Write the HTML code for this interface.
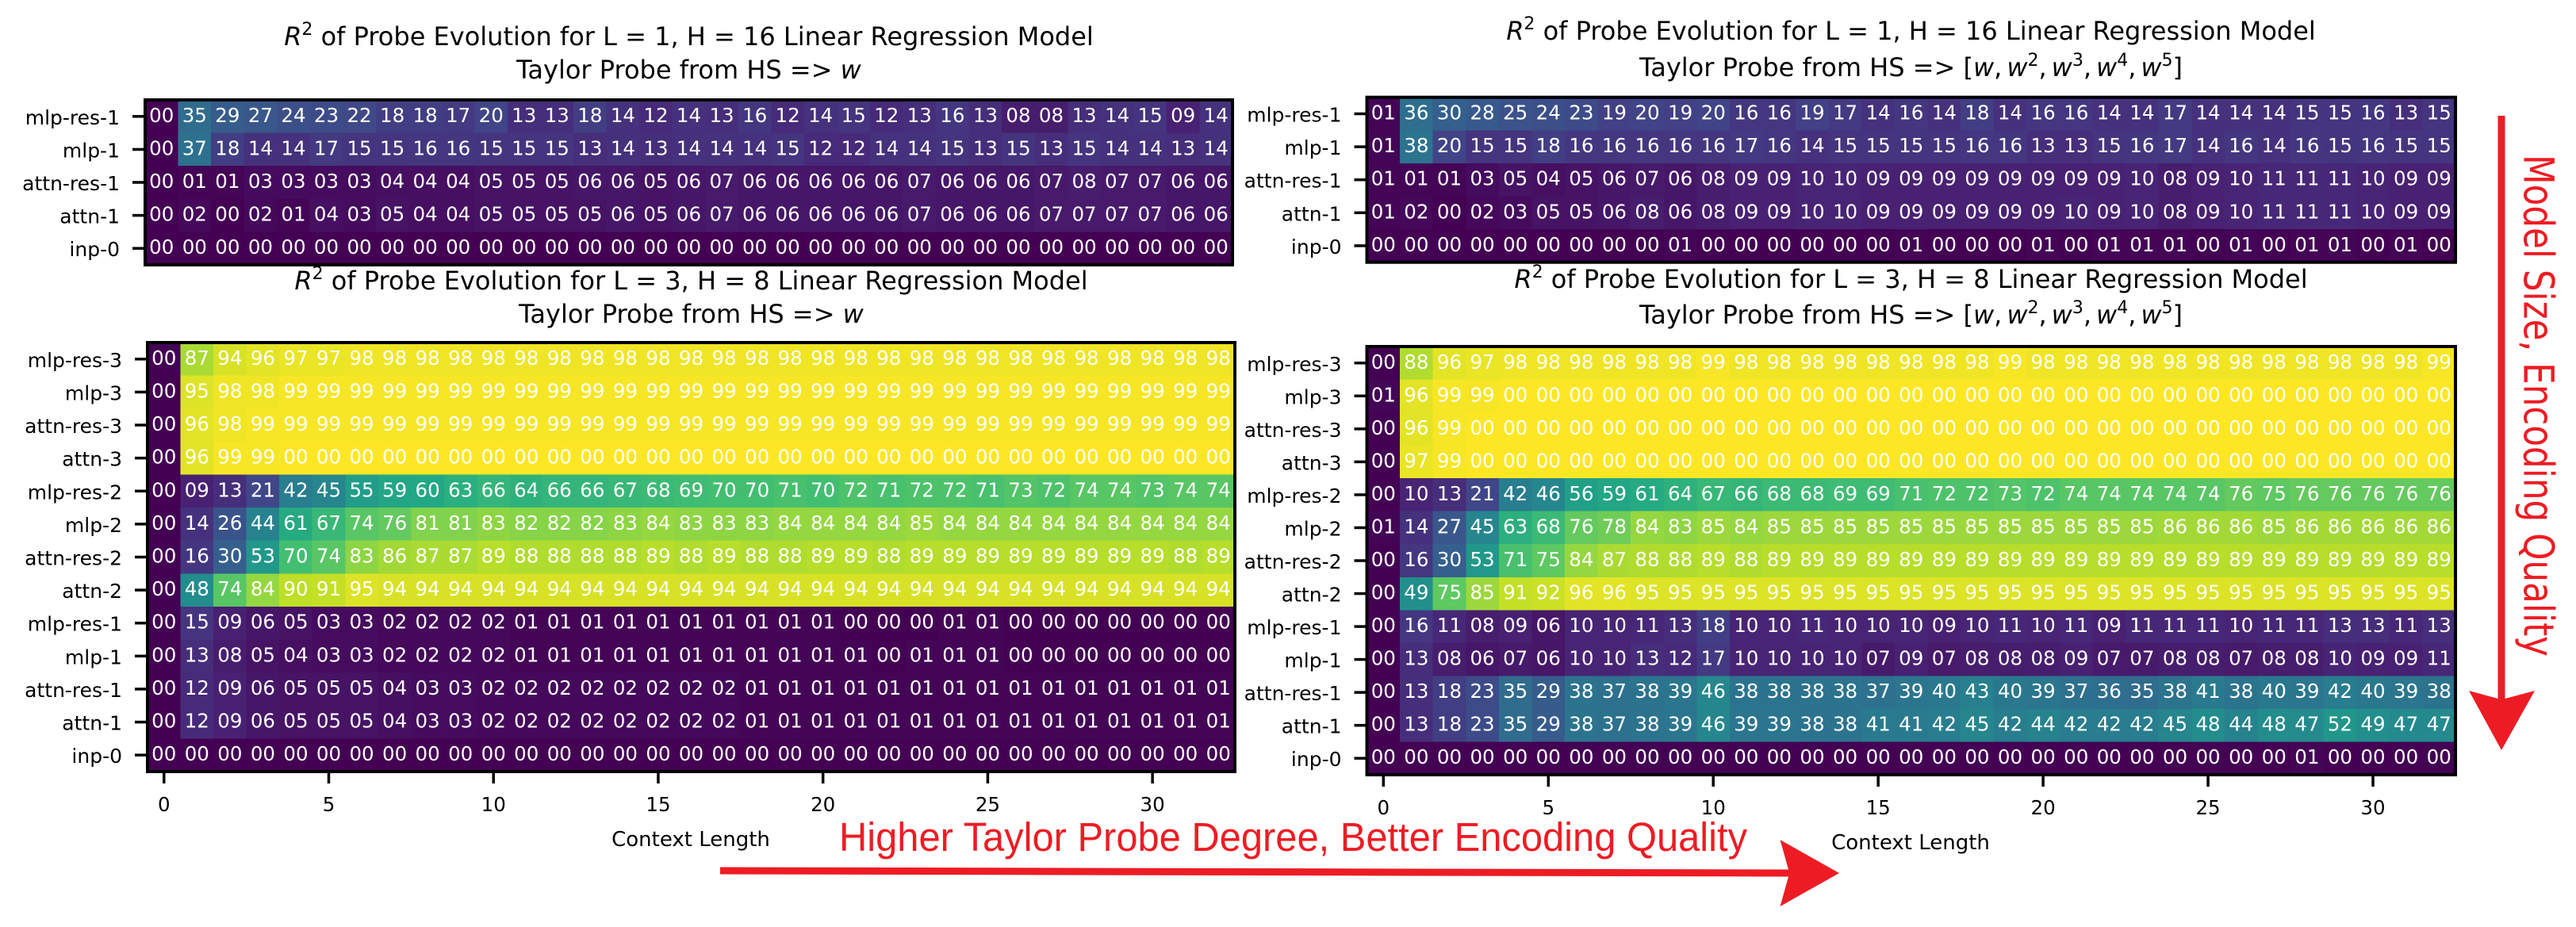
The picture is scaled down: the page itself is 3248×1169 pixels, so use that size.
<!DOCTYPE html>
<html lang="en">
<head>
<meta charset="utf-8">
<title>R2 of Probe Evolution heatmaps</title>
<style>
html,body{margin:0;padding:0;background:#fff;}
svg{display:block;}
text{font-family:"DejaVu Sans","Liberation Sans",sans-serif;}
.title{font-size:32px;fill:#000;text-anchor:middle;}
.sup{font-size:22px;}
.it{font-style:italic;}
.cell-text{font-size:24.5px;fill:#fff;text-anchor:middle;}
.ytick{font-size:25px;fill:#000;text-anchor:end;}
.xtick{font-size:24.5px;fill:#000;text-anchor:middle;}
.xlabel{font-size:26px;fill:#000;text-anchor:middle;}
</style>
</head>
<body>
<svg id="chart" xmlns="http://www.w3.org/2000/svg" width="3248" height="1169" viewBox="0 0 3248 1169">
  <rect x="0" y="0" width="3248" height="1169" fill="#fff"/>

  <text class="title" x="868.5" y="57"><tspan class="it">R</tspan><tspan class="sup" dy="-13">2</tspan><tspan dy="13"> of Probe Evolution for L = 1, H = 16 Linear Regression Model</tspan></text>
  <text class="title" x="868.5" y="99">Taylor Probe from HS =&gt; <tspan class="it">w</tspan></text>

  <text class="title" x="2409.5" y="50"><tspan class="it">R</tspan><tspan class="sup" dy="-13">2</tspan><tspan dy="13"> of Probe Evolution for L = 1, H = 16 Linear Regression Model</tspan></text>
  <text class="title" x="2409.5" y="96">Taylor Probe from HS =&gt; [<tspan class="it">w</tspan>,<tspan class="it" dx="6">w</tspan><tspan class="sup" dy="-13">2</tspan><tspan dy="13">,</tspan><tspan class="it" dx="6">w</tspan><tspan class="sup" dy="-13">3</tspan><tspan dy="13">,</tspan><tspan class="it" dx="6">w</tspan><tspan class="sup" dy="-13">4</tspan><tspan dy="13">,</tspan><tspan class="it" dx="6">w</tspan><tspan class="sup" dy="-13">5</tspan><tspan dy="13">]</tspan></text>

  <text class="title" x="871.5" y="365"><tspan class="it">R</tspan><tspan class="sup" dy="-13">2</tspan><tspan dy="13"> of Probe Evolution for L = 3, H = 8 Linear Regression Model</tspan></text>
  <text class="title" x="871.5" y="407">Taylor Probe from HS =&gt; <tspan class="it">w</tspan></text>

  <text class="title" x="2409.5" y="363"><tspan class="it">R</tspan><tspan class="sup" dy="-13">2</tspan><tspan dy="13"> of Probe Evolution for L = 3, H = 8 Linear Regression Model</tspan></text>
  <text class="title" x="2409.5" y="408">Taylor Probe from HS =&gt; [<tspan class="it">w</tspan>,<tspan class="it" dx="6">w</tspan><tspan class="sup" dy="-13">2</tspan><tspan dy="13">,</tspan><tspan class="it" dx="6">w</tspan><tspan class="sup" dy="-13">3</tspan><tspan dy="13">,</tspan><tspan class="it" dx="6">w</tspan><tspan class="sup" dy="-13">4</tspan><tspan dy="13">,</tspan><tspan class="it" dx="6">w</tspan><tspan class="sup" dy="-13">5</tspan><tspan dy="13">]</tspan></text>

  <g id="panels"></g>

  <text class="xlabel" x="871" y="1067">Context Length</text>
  <text class="xlabel" x="2409" y="1071">Context Length</text>

  <text x="1058" y="1073" textLength="1145" lengthAdjust="spacingAndGlyphs" style="font-family:'Liberation Sans',sans-serif;font-size:51px;fill:#ed1c24;">Higher Taylor Probe Degree, Better Encoding Quality</text>
  <polygon fill="#ed1c24" points="908,1093.5 2255,1096.5 2244.5,1059 2319,1101 2244.5,1143 2255,1105.5 908,1102.5"/>

  <text transform="translate(3182.5,195) rotate(90) scale(1,1.2)" textLength="633" lengthAdjust="spacingAndGlyphs" style="font-size:44px;fill:#ed1c24;">Model Size, Encoding Quality</text>
  <polygon fill="#ed1c24" points="3149.5,146 3158.5,146 3158.5,881 3196,871 3154,946 3113,871 3149.5,881"/>
</svg>
<script>
const xTickLabels = [0, 5, 10, 15, 20, 25, 30];
const labelsSmall = ['mlp-res-1', 'mlp-1', 'attn-res-1', 'attn-1', 'inp-0'];
const labelsLarge = ['mlp-res-3', 'mlp-3', 'attn-res-3', 'attn-3', 'mlp-res-2', 'mlp-2', 'attn-res-2', 'attn-2', 'mlp-res-1', 'mlp-1', 'attn-res-1', 'attn-1', 'inp-0'];

const topLeftMlpRes1 = [0,35,29,27,24,23,22,18,18,17,20,13,13,18,14,12,14,13,16,12,14,15,12,13,16,13,8,8,13,14,15,9,14];
const topLeftMlp1 = [0,37,18,14,14,17,15,15,16,16,15,15,15,13,14,13,14,14,14,15,12,12,14,14,15,13,15,13,15,14,14,13,14];
const topLeftAttnRes1 = [0,1,1,3,3,3,3,4,4,4,5,5,5,6,6,5,6,7,6,6,6,6,6,7,6,6,6,7,8,7,7,6,6];
const topLeftAttn1 = [0,2,0,2,1,4,3,5,4,4,5,5,5,5,6,5,6,7,6,6,6,6,6,7,6,6,6,7,7,7,7,6,6];
const topLeftInp0 = [0,0,0,0,0,0,0,0,0,0,0,0,0,0,0,0,0,0,0,0,0,0,0,0,0,0,0,0,0,0,0,0,0];

const topRightMlpRes1 = [1,36,30,28,25,24,23,19,20,19,20,16,16,19,17,14,16,14,18,14,16,16,14,14,17,14,14,14,15,15,16,13,15];
const topRightMlp1 = [1,38,20,15,15,18,16,16,16,16,16,17,16,14,15,15,15,15,16,16,13,13,15,16,17,14,16,14,16,15,16,15,15];
const topRightAttnRes1 = [1,1,1,3,5,4,5,6,7,6,8,9,9,10,10,9,9,9,9,9,9,9,9,10,8,9,10,11,11,11,10,9,9];
const topRightAttn1 = [1,2,0,2,3,5,5,6,8,6,8,9,9,10,10,9,9,9,9,9,9,10,9,10,8,9,10,11,11,11,10,9,9];
const topRightInp0 = [0,0,0,0,0,0,0,0,0,1,0,0,0,0,0,0,1,0,0,0,1,0,1,1,1,0,1,0,1,1,0,1,0];

const bottomLeftMlpRes3 = [0,87,94,96,97,97,98,98,98,98,98,98,98,98,98,98,98,98,98,98,98,98,98,98,98,98,98,98,98,98,98,98,98];
const bottomLeftMlp3 = [0,95,98,98,99,99,99,99,99,99,99,99,99,99,99,99,99,99,99,99,99,99,99,99,99,99,99,99,99,99,99,99,99];
const bottomLeftAttnRes3 = [0,96,98,99,99,99,99,99,99,99,99,99,99,99,99,99,99,99,99,99,99,99,99,99,99,99,99,99,99,99,99,99,99];
const bottomLeftAttn3 = [0,96,99,99,100,100,100,100,100,100,100,100,100,100,100,100,100,100,100,100,100,100,100,100,100,100,100,100,100,100,100,100,100];
const bottomLeftMlpRes2 = [0,9,13,21,42,45,55,59,60,63,66,64,66,66,67,68,69,70,70,71,70,72,71,72,72,71,73,72,74,74,73,74,74];
const bottomLeftMlp2 = [0,14,26,44,61,67,74,76,81,81,83,82,82,82,83,84,83,83,83,84,84,84,84,85,84,84,84,84,84,84,84,84,84];
const bottomLeftAttnRes2 = [0,16,30,53,70,74,83,86,87,87,89,88,88,88,88,89,88,89,88,88,89,89,88,89,89,89,89,89,89,89,89,88,89];
const bottomLeftAttn2 = [0,48,74,84,90,91,95,94,94,94,94,94,94,94,94,94,94,94,94,94,94,94,94,94,94,94,94,94,94,94,94,94,94];
const bottomLeftMlpRes1 = [0,15,9,6,5,3,3,2,2,2,2,1,1,1,1,1,1,1,1,1,1,0,0,0,1,1,0,0,0,0,0,0,0];
const bottomLeftMlp1 = [0,13,8,5,4,3,3,2,2,2,2,1,1,1,1,1,1,1,1,1,1,1,0,1,1,1,0,0,0,0,0,0,0];
const bottomLeftAttnRes1 = [0,12,9,6,5,5,5,4,3,3,2,2,2,2,2,2,2,2,1,1,1,1,1,1,1,1,1,1,1,1,1,1,1];
const bottomLeftAttn1 = [0,12,9,6,5,5,5,4,3,3,2,2,2,2,2,2,2,2,1,1,1,1,1,1,1,1,1,1,1,1,1,1,1];
const bottomLeftInp0 = [0,0,0,0,0,0,0,0,0,0,0,0,0,0,0,0,0,0,0,0,0,0,0,0,0,0,0,0,0,0,0,0,0];

const bottomRightMlpRes3 = [0,88,96,97,98,98,98,98,98,98,99,98,98,98,98,98,98,98,98,99,98,98,98,98,98,98,98,98,98,98,98,98,99];
const bottomRightMlp3 = [1,96,99,99,100,100,100,100,100,100,100,100,100,100,100,100,100,100,100,100,100,100,100,100,100,100,100,100,100,100,100,100,100];
const bottomRightAttnRes3 = [0,96,99,100,100,100,100,100,100,100,100,100,100,100,100,100,100,100,100,100,100,100,100,100,100,100,100,100,100,100,100,100,100];
const bottomRightAttn3 = [0,97,99,100,100,100,100,100,100,100,100,100,100,100,100,100,100,100,100,100,100,100,100,100,100,100,100,100,100,100,100,100,100];
const bottomRightMlpRes2 = [0,10,13,21,42,46,56,59,61,64,67,66,68,68,69,69,71,72,72,73,72,74,74,74,74,74,76,75,76,76,76,76,76];
const bottomRightMlp2 = [1,14,27,45,63,68,76,78,84,83,85,84,85,85,85,85,85,85,85,85,85,85,85,85,86,86,86,85,86,86,86,86,86];
const bottomRightAttnRes2 = [0,16,30,53,71,75,84,87,88,88,89,88,89,89,89,89,89,89,89,89,89,89,89,89,89,89,89,89,89,89,89,89,89];
const bottomRightAttn2 = [0,49,75,85,91,92,96,96,95,95,95,95,95,95,95,95,95,95,95,95,95,95,95,95,95,95,95,95,95,95,95,95,95];
const bottomRightMlpRes1 = [0,16,11,8,9,6,10,10,11,13,18,10,10,11,10,10,10,9,10,11,10,11,9,11,11,11,10,11,11,13,13,11,13];
const bottomRightMlp1 = [0,13,8,6,7,6,10,10,13,12,17,10,10,10,10,7,9,7,8,8,8,9,7,7,8,8,7,8,8,10,9,9,11];
const bottomRightAttnRes1 = [0,13,18,23,35,29,38,37,38,39,46,38,38,38,38,37,39,40,43,40,39,37,36,35,38,41,38,40,39,42,40,39,38];
const bottomRightAttn1 = [0,13,18,23,35,29,38,37,38,39,46,39,39,38,38,41,41,42,45,42,44,42,42,42,45,48,44,48,47,52,49,47,47];
const bottomRightInp0 = [0,0,0,0,0,0,0,0,0,0,0,0,0,0,0,0,0,0,0,0,0,0,0,0,0,0,0,0,1,0,0,0,0];

const viridisStops = ['#440154','#482475','#414487','#355f8d','#2a788e','#21918c','#22a884','#42be71','#7ad151','#bddf26','#fde725'];

function colorFor(value) {
  const t = Math.max(0, Math.min(1, value / 100)) * (viridisStops.length - 1);
  const i = Math.min(Math.floor(t), viridisStops.length - 2);
  const f = t - i;
  const a = parseInt(viridisStops[i].slice(1), 16);
  const b = parseInt(viridisStops[i + 1].slice(1), 16);
  const mix = s => Math.round(((a >> s) & 255) * (1 - f) + ((b >> s) & 255) * f);
  return 'rgb(' + mix(16) + ',' + mix(8) + ',' + mix(0) + ')';
}

function printed(value) {
  return String(Math.round(value) % 100).padStart(2, '0');
}

const SVG_NS = 'http://www.w3.org/2000/svg';

function drawPanel(panel) {
  const root = document.getElementById('panels');
  const group = document.createElementNS(SVG_NS, 'g');
  
  
  root.appendChild(group);

  const columns = panel.rows[0].length;
  const cellW = (panel.right - panel.left) / columns;
  const cellH = (panel.bottom - panel.top) / panel.rows.length;
  const xOf = c => panel.left + (c + 0.5) * cellW;
  const yOf = r => panel.top + (r + 0.5) * cellH;

  panel.rows.forEach((row, r) => {
    row.forEach((value, c) => {
      const rect = document.createElementNS(SVG_NS, 'rect');
      
      
      rect.setAttribute('x', panel.left + c * cellW);
      rect.setAttribute('y', panel.top + r * cellH);
      rect.setAttribute('width', cellW + 0.5);
      rect.setAttribute('height', cellH + 0.5);
      rect.setAttribute('fill', colorFor(value));
      rect.setAttribute('shape-rendering', 'crispEdges');
      group.appendChild(rect);
    });
  });

  panel.rows.forEach((row, r) => {
    row.forEach((value, c) => {
      const label = document.createElementNS(SVG_NS, 'text');
      
      
      label.setAttribute('class', 'cell-text');
      label.setAttribute('x', xOf(c));
      label.setAttribute('y', yOf(r) + 7);
      label.textContent = printed(value);
      group.appendChild(label);
    });
  });

  const frame = document.createElementNS(SVG_NS, 'rect');
  
  
  frame.setAttribute('x', panel.left);
  frame.setAttribute('y', panel.top);
  frame.setAttribute('width', panel.right - panel.left);
  frame.setAttribute('height', panel.bottom - panel.top);
  frame.setAttribute('fill', 'none');
  frame.setAttribute('stroke', '#000');
  frame.setAttribute('stroke-width', '4');
  group.appendChild(frame);

  panel.labels.forEach((name, r) => {
    const tick = document.createElementNS(SVG_NS, 'line');
    
    
    tick.setAttribute('x1', panel.left - 16);
    tick.setAttribute('x2', panel.left);
    tick.setAttribute('y1', yOf(r));
    tick.setAttribute('y2', yOf(r));
    tick.setAttribute('stroke', '#000');
    tick.setAttribute('stroke-width', '3.5');
    group.appendChild(tick);

    const label = document.createElementNS(SVG_NS, 'text');
    
    
    label.setAttribute('class', 'ytick');
    label.setAttribute('x', panel.left - 32);
    label.setAttribute('y', yOf(r) + 10);
    label.textContent = name;
    group.appendChild(label);
  });

  if (panel.showX) {
    xTickLabels.forEach(value => {
      const tick = document.createElementNS(SVG_NS, 'line');
      
      
      tick.setAttribute('x1', xOf(value));
      tick.setAttribute('x2', xOf(value));
      tick.setAttribute('y1', panel.bottom);
      tick.setAttribute('y2', panel.bottom + 15);
      tick.setAttribute('stroke', '#000');
      tick.setAttribute('stroke-width', '3.5');
      group.appendChild(tick);

      const label = document.createElementNS(SVG_NS, 'text');
      
      
      label.setAttribute('class', 'xtick');
      label.setAttribute('x', xOf(value));
      label.setAttribute('y', panel.bottom + 50);
      label.textContent = String(value);
      group.appendChild(label);
    });
  }
}

drawPanel({
  name: 'heatmap-top-left', left: 183, right: 1554, top: 126, bottom: 334, showX: false, labels: labelsSmall,
  rows: [topLeftMlpRes1, topLeftMlp1, topLeftAttnRes1, topLeftAttn1, topLeftInp0]
});
drawPanel({
  name: 'heatmap-top-right', left: 1723.5, right: 3096, top: 122.7, bottom: 330.7, showX: false, labels: labelsSmall,
  rows: [topRightMlpRes1, topRightMlp1, topRightAttnRes1, topRightAttn1, topRightInp0]
});
drawPanel({
  name: 'heatmap-bottom-left', left: 186, right: 1557, top: 432, bottom: 973, showX: true, labels: labelsLarge,
  rows: [bottomLeftMlpRes3, bottomLeftMlp3, bottomLeftAttnRes3, bottomLeftAttn3, bottomLeftMlpRes2, bottomLeftMlp2, bottomLeftAttnRes2, bottomLeftAttn2, bottomLeftMlpRes1, bottomLeftMlp1, bottomLeftAttnRes1, bottomLeftAttn1, bottomLeftInp0]
});
drawPanel({
  name: 'heatmap-bottom-right', left: 1723.5, right: 3096, top: 437, bottom: 977, showX: true, labels: labelsLarge,
  rows: [bottomRightMlpRes3, bottomRightMlp3, bottomRightAttnRes3, bottomRightAttn3, bottomRightMlpRes2, bottomRightMlp2, bottomRightAttnRes2, bottomRightAttn2, bottomRightMlpRes1, bottomRightMlp1, bottomRightAttnRes1, bottomRightAttn1, bottomRightInp0]
});
</script>
</body>
</html>
